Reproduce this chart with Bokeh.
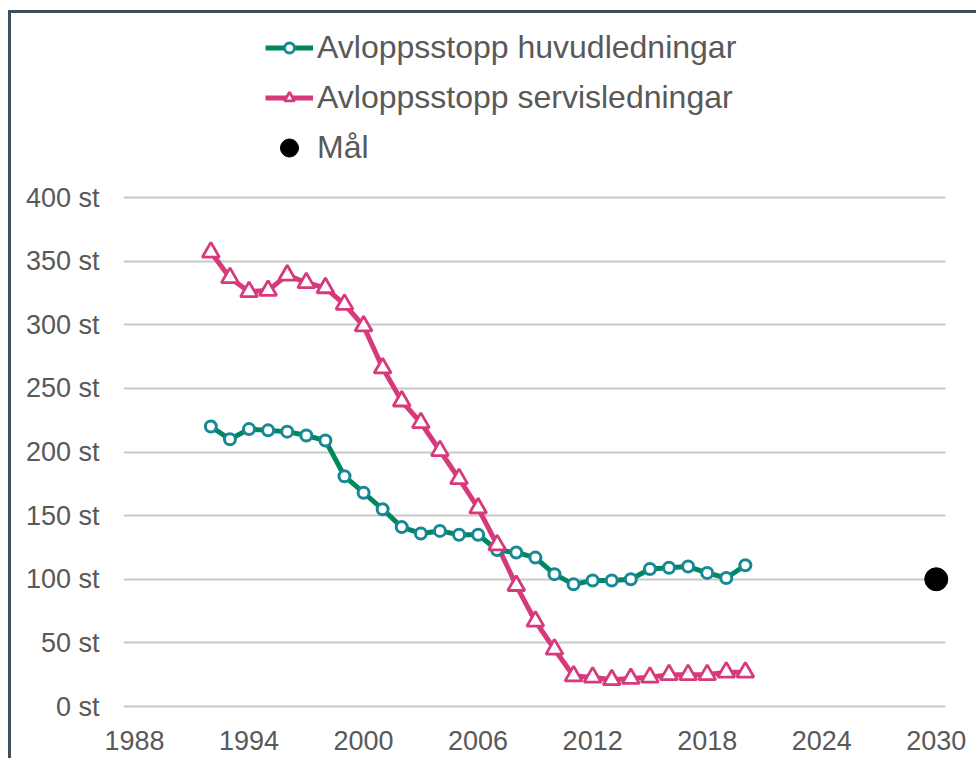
from bokeh.plotting import figure
from bokeh.models import (Range1d, FixedTicker, PrintfTickFormatter, Legend, LegendItem,
                          ColumnDataSource)
from bokeh.embed import file_html
from bokeh.resources import INLINE

# ---- data ----
years = list(range(1992, 2021))
huvud = [220, 210, 218, 217, 216, 213, 209, 181, 168, 155, 141, 136, 138, 135, 135,
         123, 121, 117, 104, 96, 99, 99, 100, 108, 109, 110, 105, 101, 111]
servis = [357, 337, 326, 327, 339, 333, 329, 316, 299, 266, 240, 223, 201, 179, 156,
          127, 95, 67, 45, 24, 23, 21, 22, 23, 25, 25, 25, 27, 27]
goal_year = [2030]
goal_value = [100]
x_ticks = [1988, 1994, 2000, 2006, 2012, 2018, 2024, 2030]
y_ticks = [0, 50, 100, 150, 200, 250, 300, 350, 400]
label_huvud = "Avloppsstopp huvudledningar"
label_servis = "Avloppsstopp servisledningar"
label_goal = "Mål"

GREEN = "#00875F"
TEAL = "#168896"
PINK = "#D63A7D"
TEXT = "#595959"
FONT = "Liberation Sans"
BORDER = "#3E4F5E"

W, H = 968, 748
X0, X1 = 1987.424, 2032.265
p = figure(width=W, height=H, output_backend="svg", toolbar_location=None,
           x_range=Range1d(X0, X1), y_range=Range1d(-1.57, 544.6),
           min_border_left=112, min_border_right=0, min_border_top=0, min_border_bottom=53)
p.styles = {"position": "relative", "left": "11px", "top": "13px",
            "box-shadow": "-3px -3px 0 0 " + BORDER}
p.outline_line_color = None
p.background_fill_color = "white"
p.border_fill_color = "white"

p.xgrid.visible = False
p.ygrid.ticker = FixedTicker(ticks=y_ticks)
p.ygrid.grid_line_color = "#C8C8C8"
p.ygrid.grid_line_width = 2
p.ygrid.cross_bounds = (X0, 2030.47)

for ax in (p.xaxis[0], p.yaxis[0]):
    ax.axis_line_color = None
    ax.major_tick_line_color = None
    ax.minor_tick_line_color = None
    ax.major_tick_out = 0
    ax.major_tick_in = 0
    ax.major_label_text_font = FONT
    ax.major_label_text_font_size = "27px"
    ax.major_label_text_color = TEXT

p.xaxis.ticker = FixedTicker(ticks=x_ticks)
p.xaxis.major_label_standoff = 22
p.yaxis.ticker = FixedTicker(ticks=y_ticks)
p.yaxis.formatter = PrintfTickFormatter(format="%d st")
p.yaxis.major_label_standoff = 24

src_h = ColumnDataSource(dict(x=years, y=huvud))
src_s = ColumnDataSource(dict(x=years, y=servis))
src_g = ColumnDataSource(dict(x=goal_year, y=goal_value))

r_sl = p.line("x", "y", source=src_s, line_color=PINK, line_width=5)
r_hl = p.line("x", "y", source=src_h, line_color=GREEN, line_width=5)
r_hm = p.scatter("x", "y", source=src_h, marker="circle", size=11, fill_color="white",
                 line_color=TEAL, line_width=3)
r_sm = p.scatter("x", "y", source=src_s, marker="triangle", size=17, fill_color="white",
                 line_color=PINK, line_width=2.8)
r_g = p.scatter("x", "y", source=src_g, marker="circle", size=23, fill_color="black",
                line_color="black")

common = dict(glyph_width=48, padding=0, margin=0, label_standoff=4,
              border_line_color=None, background_fill_alpha=0,
              label_text_font=FONT, label_text_font_size="32px", label_text_color=TEXT)
legA = Legend(items=[LegendItem(label=label_huvud, renderers=[r_hl, r_hm]),
                     LegendItem(label=label_servis, renderers=[r_sl, r_sm])],
              location=(142, 592), glyph_height=25, label_height=25, spacing=13, **common)
legB = Legend(items=[LegendItem(label=label_goal, renderers=[r_g])],
              location=(142, 538), glyph_height=45, label_height=45, spacing=0, **common)
p.add_layout(legA)
p.add_layout(legB)

open("out.html", "w").write(file_html(p, INLINE))
